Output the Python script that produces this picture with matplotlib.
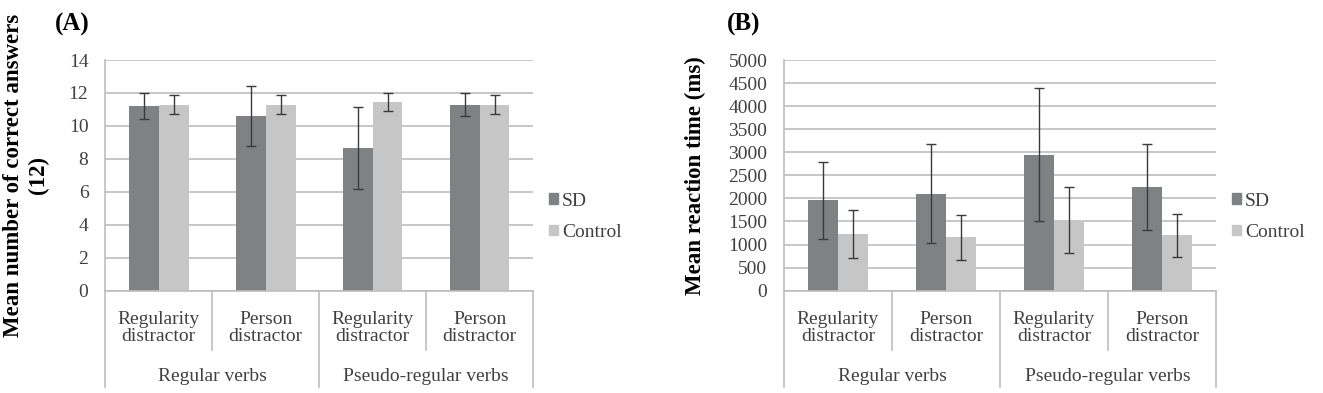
import numpy as np
import matplotlib.pyplot as plt
import matplotlib.transforms as mtransforms
from matplotlib.patches import Patch

plt.rcParams['font.family'] = ['Liberation Serif', 'DejaVu Serif']

subcats = ['Regularity\ndistractor', 'Person\ndistractor', 'Regularity\ndistractor', 'Person\ndistractor']
groups = ['Regular verbs', 'Pseudo-regular verbs']
series = ['SD', 'Control']

# panel A: mean number of correct answers
a_sd = [11.2, 10.6, 8.65, 11.28]
a_sd_err = [0.8, 1.8, 2.5, 0.7]
a_ctrl = [11.3, 11.3, 11.45, 11.3]
a_ctrl_err = [0.6, 0.6, 0.52, 0.6]

# panel B: mean reaction time (ms)
b_sd = [1960, 2100, 2950, 2250]
b_sd_err = [840, 1075, 1450, 935]
b_ctrl = [1230, 1155, 1540, 1200]
b_ctrl_err = [515, 485, 715, 470]

SD_COL = '#808183'
CT_COL = '#c6c6c7'
GRID = '#bdbdbd'
ERR = '#3a3a3a'
TXT = '#404040'


def draw_panel(ax, sd, sd_err, ctrl, ctrl_err, ymax, ystep, ylabel, label_x, tag, tag_x):
    x = np.arange(len(subcats))
    w = 0.28
    ax.bar(x - w / 2, sd, w, color=SD_COL, zorder=2)
    ax.bar(x + w / 2, ctrl, w, color=CT_COL, zorder=2)
    ax.errorbar(x - w / 2, sd, yerr=sd_err, fmt='none', ecolor=ERR, elinewidth=1, capsize=3.5, capthick=1, zorder=3)
    ax.errorbar(x + w / 2, ctrl, yerr=ctrl_err, fmt='none', ecolor=ERR, elinewidth=1, capsize=3.5, capthick=1, zorder=3)

    ax.set_xlim(-0.5, len(subcats) - 0.5)
    ax.set_ylim(0, ymax)
    ax.set_yticks(np.arange(0, ymax + ystep / 2, ystep))
    ax.yaxis.grid(True, color=GRID, linewidth=1.2)
    ax.set_axisbelow(True)
    for s in ['top', 'right']:
        ax.spines[s].set_visible(False)
    for s in ['left', 'bottom']:
        ax.spines[s].set_color(GRID)
        ax.spines[s].set_linewidth(1.2)
    ax.tick_params(axis='y', length=0, labelsize=14, pad=12, colors=TXT)
    ax.set_xticks([])

    # multi-level category axis
    tr = mtransforms.blended_transform_factory(ax.transData, ax.transAxes)
    for i, lab in enumerate(subcats):
        ax.text(i, -0.162, lab, transform=tr, ha='center', va='center', fontsize=14,
                color=TXT, linespacing=1.05)
    for xd in [0.5, 2.5]:
        ax.plot([xd, xd], [0, -0.257], transform=tr, color=GRID, lw=1.2, clip_on=False)
    for xd in [-0.5, 1.5, 3.5]:
        ax.plot([xd, xd], [0, -0.417], transform=tr, color=GRID, lw=1.2, clip_on=False)
    for j, g in enumerate(groups):
        ax.text(2 * j + 0.5, -0.372, g, transform=tr, ha='center', va='center', fontsize=14, color=TXT)

    ax.set_ylabel(ylabel, fontsize=16.5, fontweight='bold', linespacing=1.2, va='center')
    ax.yaxis.set_label_coords(label_x, 0.5)
    ax.text(tag_x, 1.155, tag, transform=ax.transAxes, fontsize=18, fontweight='bold', ha='left', va='center')

    handles = [Patch(color=SD_COL, label=series[0]), Patch(color=CT_COL, label=series[1])]
    ax.legend(handles=handles, loc='center left', bbox_to_anchor=(1.02, 0.32), frameon=False,
              fontsize=14, handlelength=0.45, handleheight=0.45, handletextpad=0.2, labelspacing=0.75,
              labelcolor=TXT, borderaxespad=0)


fig = plt.figure(figsize=(13.23, 3.93), dpi=100)
ax1 = fig.add_axes([0.0794, 0.2603, 0.3235, 0.587])
ax2 = fig.add_axes([0.5926, 0.2603, 0.3265, 0.587])

draw_panel(ax1, a_sd, a_sd_err, a_ctrl, a_ctrl_err, 14, 2, 'Mean number of correct answers\n(12)', -0.185,
           '(A)', -0.117)
draw_panel(ax2, b_sd, b_sd_err, b_ctrl, b_ctrl_err, 5000, 500, 'Mean reaction time (ms)', -0.206,
           '(B)', -0.132)

fig.savefig('out.png', dpi=100)
